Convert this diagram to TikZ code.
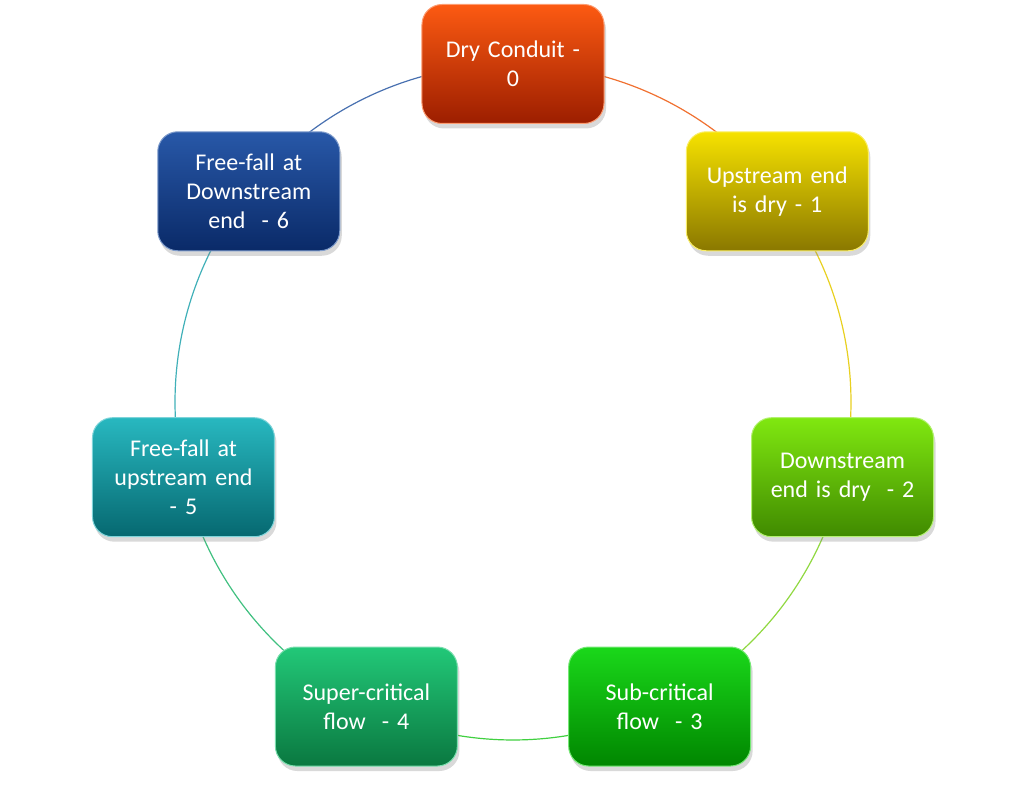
\documentclass[tikz,border=0pt]{standalone}
\usepackage{fontspec}
\setmainfont{Carlito}
\usetikzlibrary{shadows,backgrounds}

\definecolor{t0}{RGB}{252,90,18}   \definecolor{b0}{RGB}{156,30,0}
\definecolor{t1}{RGB}{246,226,0}   \definecolor{b1}{RGB}{138,120,0}
\definecolor{t2}{RGB}{128,232,16}  \definecolor{b2}{RGB}{64,138,0}
\definecolor{t3}{RGB}{26,216,26}   \definecolor{b3}{RGB}{0,134,0}
\definecolor{t4}{RGB}{34,200,120}  \definecolor{b4}{RGB}{10,120,64}
\definecolor{t5}{RGB}{40,184,192}  \definecolor{b5}{RGB}{6,104,112}
\definecolor{t6}{RGB}{40,88,168}   \definecolor{b6}{RGB}{10,42,104}
\definecolor{l0}{RGB}{240,112,48}
\definecolor{l1}{RGB}{232,208,32}
\definecolor{l2}{RGB}{144,216,64}
\definecolor{l3}{RGB}{64,208,64}
\definecolor{l4}{RGB}{64,192,128}
\definecolor{l5}{RGB}{64,176,184}
\definecolor{l6}{RGB}{72,112,176}

\tikzset{
  stage/.style={rectangle, rounded corners=20pt,
    minimum width=182pt, minimum height=119pt,
    text width=170pt, align=center, text=white,
    font=\fontsize{24}{29}\selectfont,
    drop shadow={opacity=0.3, shadow xshift=2pt, shadow yshift=-5pt}},
  link/.style={line width=1.2pt}
}

\begin{document}
\begin{tikzpicture}
  \useasboundingbox (-513pt,-382pt) rectangle (514pt,402pt);
  \foreach \i/\txt in {0/{Dry Conduit -\\0},
                       1/{Upstream end\\is dry - 1},
                       2/{Downstream\\end is dry~ - 2},
                       3/{Sub-critical\\flow~ - 3},
                       4/{Super-critical\\flow~ - 4},
                       5/{Free-fall at\\upstream end\\- 5},
                       6/{Free-fall at\\Downstream\\end~ - 6}}
    \node[stage, top color=t\i, bottom color=b\i, draw=t\i!60!white,
          line width=1pt] (s\i) at ({90-\i*360/7}:338pt) {\txt};
  % ring pieces, from one stage to the next
  \begin{scope}[on background layer]
    \foreach \i [evaluate=\i as \a using 90-\i*360/7] in {0,...,6}
      \draw[link, l\i] (s\i.center)
        arc[start angle=\a, delta angle=-360/7, radius=338pt];
  \end{scope}
\end{tikzpicture}
\end{document}
